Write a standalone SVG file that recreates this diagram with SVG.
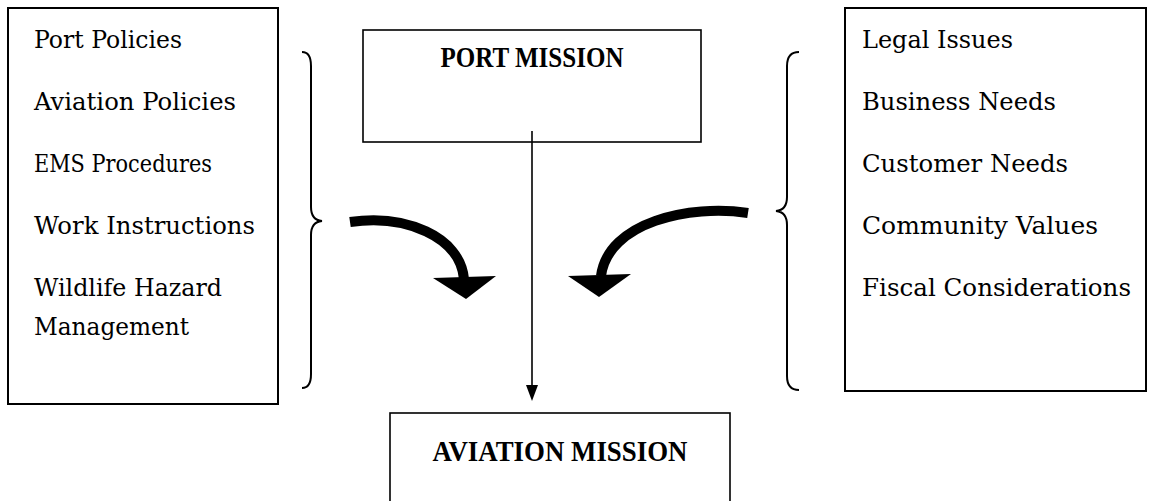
<svg xmlns="http://www.w3.org/2000/svg" width="1154" height="501" viewBox="0 0 1154 501">
<style>
.box{fill:#fff;stroke:#000;stroke-width:2}
.mbox{fill:#fff;stroke:#000;stroke-width:1.6}
.t{font-family:"DejaVu Serif","Liberation Serif",serif;font-size:24.5px;fill:#000}
.h{font-family:"Liberation Serif",serif;font-weight:bold;font-size:29px;fill:#000;text-anchor:middle}
.brace{fill:none;stroke:#000;stroke-width:2}
.shaft{fill:none;stroke:#000;stroke-width:10}
</style>
<rect width="1154" height="501" fill="#fff"/>
<g id="left-list">
<rect class="box" x="8" y="8" width="270" height="396"/>
<text class="t" x="34" y="48" textLength="148" lengthAdjust="spacingAndGlyphs">Port Policies</text>
<text class="t" x="34" y="110" textLength="202" lengthAdjust="spacingAndGlyphs">Aviation Policies</text>
<text class="t" x="34" y="172" textLength="178" lengthAdjust="spacingAndGlyphs">EMS Procedures</text>
<text class="t" x="34" y="234" textLength="221" lengthAdjust="spacingAndGlyphs">Work Instructions</text>
<text class="t" x="34" y="296" textLength="188" lengthAdjust="spacingAndGlyphs">Wildlife Hazard</text>
<text class="t" x="34" y="335" textLength="155" lengthAdjust="spacingAndGlyphs">Management</text>
</g>
<g id="right-list">
<rect class="box" x="845" y="8" width="301" height="383"/>
<text class="t" x="862" y="48" textLength="151" lengthAdjust="spacingAndGlyphs">Legal Issues</text>
<text class="t" x="862" y="110" textLength="194" lengthAdjust="spacingAndGlyphs">Business Needs</text>
<text class="t" x="862" y="172" textLength="206" lengthAdjust="spacingAndGlyphs">Customer Needs</text>
<text class="t" x="862" y="234" textLength="236" lengthAdjust="spacingAndGlyphs">Community Values</text>
<text class="t" x="862" y="296" textLength="269" lengthAdjust="spacingAndGlyphs">Fiscal Considerations</text>
</g>
<g id="port-mission">
<rect class="mbox" x="363" y="30" width="338" height="112"/>
<text class="h" x="532" y="67" textLength="183" lengthAdjust="spacingAndGlyphs">PORT MISSION</text>
</g>
<g id="aviation-mission">
<rect class="mbox" x="390" y="413" width="340" height="100"/>
<text class="h" x="560" y="461" textLength="255" lengthAdjust="spacingAndGlyphs">AVIATION MISSION</text>
</g>
<g id="left-brace">
<path class="brace" d="M302,52 Q311,52 311,66 L311,207 Q311,220 322,221 Q311,222 311,235 L311,374 Q311,388 302,388"/>
</g>
<g id="right-brace">
<path class="brace" d="M799,52 Q787,52 787,66 L787,197 Q787,210 776,211 Q787,212 787,225 L787,376 Q787,390 799,390"/>
</g>
<g id="connectors">
<line x1="532" y1="131" x2="532" y2="386" stroke="#000" stroke-width="1.6"/>
<path d="M526,385 L538,385 L532,401 Z" fill="#000"/>
<path class="shaft" d="M350,222 C405,214 460,236 464,279"/>
<path d="M433,278 L496,276 L466,299 Z" fill="#000"/>
<path class="shaft" d="M748,213 C690,204 608,222 601,276"/>
<path d="M568,276 L631,274 L599,297 Z" fill="#000"/>
</g>
</svg>
